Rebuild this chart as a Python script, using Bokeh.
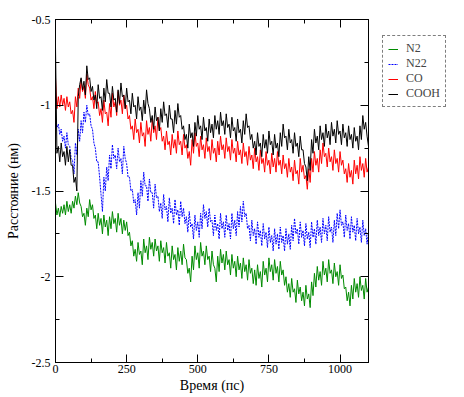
from bokeh.plotting import figure
from bokeh.models import (FixedTicker, LinearAxis, Legend, LegendItem, Range1d,
                          CustomJSTickFormatter)
from bokeh.layouts import row
from bokeh.embed import file_html
from bokeh.resources import INLINE

# time grid (ps), 5 ps sampling
time_ps = list(range(0, 1101, 5))

n2 = [-1.57, -1.64, -1.60, -1.65, -1.59, -1.63, -1.58, -1.64, -1.56, -1.62,
      -1.58, -1.63, -1.56, -1.60, -1.53, -1.58, -1.51, -1.57, -1.59, -1.65,
      -1.63, -1.70, -1.60, -1.65, -1.55, -1.61, -1.58, -1.66, -1.64, -1.72,
      -1.63, -1.70, -1.66, -1.75, -1.64, -1.71, -1.67, -1.76, -1.65, -1.72,
      -1.62, -1.69, -1.66, -1.74, -1.63, -1.70, -1.66, -1.75, -1.67, -1.73,
      -1.68, -1.76, -1.74, -1.82, -1.79, -1.88, -1.84, -1.91, -1.80, -1.87,
      -1.85, -1.93, -1.78, -1.86, -1.82, -1.90, -1.77, -1.84, -1.80, -1.88,
      -1.78, -1.85, -1.82, -1.91, -1.79, -1.86, -1.83, -1.92, -1.80, -1.88,
      -1.86, -1.95, -1.82, -1.90, -1.87, -1.96, -1.83, -1.91, -1.85, -1.93,
      -1.81, -1.89, -1.90, -1.98, -1.95, -2.03, -1.88, -1.96, -1.82, -1.90,
      -1.86, -1.95, -1.80, -1.88, -1.85, -1.93, -1.82, -1.90, -1.88, -1.97,
      -1.85, -1.93, -1.95, -2.03, -1.88, -1.97, -1.84, -1.92, -1.87, -1.96,
      -1.85, -1.93, -1.90, -1.99, -1.87, -1.95, -1.91, -2.00, -1.88, -1.96,
      -1.92, -2.01, -1.89, -1.97, -1.93, -2.02, -1.90, -1.98, -1.95, -2.04,
      -1.96, -2.05, -1.93, -2.01, -1.97, -2.06, -1.91, -1.99, -1.95, -2.03,
      -1.89, -1.97, -1.93, -2.02, -1.90, -1.98, -1.94, -2.03, -1.91, -1.99,
      -1.96, -2.05, -2.00, -2.09, -2.04, -2.12, -2.01, -2.09, -2.07, -2.15,
      -2.02, -2.10, -2.06, -2.14, -2.09, -2.17, -2.05, -2.13, -2.10, -2.18,
      -2.03, -2.11, -1.98, -2.06, -1.94, -2.02, -1.97, -2.05, -1.91, -1.99,
      -1.95, -2.03, -1.90, -1.98, -1.96, -2.04, -1.92, -2.00, -1.97, -2.05,
      -1.93, -2.01, -1.99, -2.07, -2.06, -2.14, -2.09, -2.17, -2.05, -2.13,
      -2.01, -2.09, -2.04, -2.12, -2.00, -2.08, -2.05, -2.13, -2.01, -2.09,
      -2.06]

n22 = [-1.08, -1.13, -1.11, -1.17, -1.14, -1.21, -1.18, -1.25, -1.16, -1.23,
       -1.24, -1.31, -1.32, -1.40, -1.22, -1.29, -1.14, -1.21, -1.09, -1.16,
       -1.04, -1.10, -1.00, -1.06, -1.05, -1.12, -1.14, -1.22, -1.25, -1.33,
       -1.33, -1.42, -1.52, -1.62, -1.42, -1.50, -1.36, -1.44, -1.29, -1.37,
       -1.23, -1.31, -1.29, -1.37, -1.25, -1.33, -1.31, -1.40, -1.24, -1.31,
       -1.34, -1.42, -1.42, -1.50, -1.49, -1.57, -1.55, -1.64, -1.51, -1.60,
       -1.44, -1.53, -1.39, -1.47, -1.47, -1.56, -1.43, -1.51, -1.51, -1.60,
       -1.46, -1.54, -1.53, -1.62, -1.57, -1.66, -1.52, -1.61, -1.59, -1.68,
       -1.54, -1.63, -1.60, -1.69, -1.55, -1.64, -1.61, -1.70, -1.56, -1.65,
       -1.60, -1.69, -1.65, -1.74, -1.62, -1.71, -1.69, -1.78, -1.64, -1.73,
       -1.68, -1.77, -1.63, -1.72, -1.58, -1.66, -1.62, -1.71, -1.60, -1.68,
       -1.67, -1.76, -1.64, -1.73, -1.69, -1.78, -1.63, -1.72, -1.68, -1.77,
       -1.64, -1.73, -1.69, -1.78, -1.63, -1.72, -1.67, -1.76, -1.62, -1.71,
       -1.59, -1.68, -1.56, -1.65, -1.63, -1.72, -1.70, -1.79, -1.67, -1.76,
       -1.72, -1.81, -1.68, -1.77, -1.73, -1.82, -1.69, -1.78, -1.74, -1.83,
       -1.71, -1.80, -1.76, -1.85, -1.72, -1.81, -1.75, -1.84, -1.71, -1.80,
       -1.76, -1.85, -1.72, -1.81, -1.75, -1.84, -1.70, -1.79, -1.66, -1.75,
       -1.72, -1.81, -1.68, -1.77, -1.73, -1.82, -1.69, -1.78, -1.74, -1.83,
       -1.68, -1.77, -1.72, -1.81, -1.67, -1.76, -1.71, -1.80, -1.66, -1.75,
       -1.70, -1.79, -1.65, -1.74, -1.71, -1.80, -1.67, -1.76, -1.63, -1.72,
       -1.61, -1.70, -1.68, -1.77, -1.64, -1.73, -1.69, -1.78, -1.65, -1.74,
       -1.70, -1.79, -1.66, -1.75, -1.71, -1.80, -1.67, -1.76, -1.72, -1.81,
       -1.74]

co = [-0.84, -1.02, -0.95, -1.01, -0.94, -1.00, -0.96, -1.03, -0.95, -1.01,
      -0.98, -1.05, -1.03, -1.10, -0.95, -1.01, -0.90, -0.96, -0.85, -0.92,
      -0.89, -0.96, -0.82, -0.88, -0.90, -0.97, -0.95, -1.02, -0.92, -0.99,
      -0.98, -1.06, -1.02, -1.10, -0.97, -1.05, -1.04, -1.12, -0.99, -1.07,
      -0.93, -1.01, -0.98, -1.06, -0.92, -1.00, -0.97, -1.05, -0.94, -1.02,
      -1.00, -1.08, -1.06, -1.14, -1.12, -1.20, -1.08, -1.16, -1.14, -1.22,
      -1.10, -1.18, -1.16, -1.24, -1.09, -1.17, -1.13, -1.21, -1.08, -1.16,
      -1.12, -1.20, -1.07, -1.15, -1.13, -1.21, -1.18, -1.26, -1.15, -1.23,
      -1.21, -1.29, -1.17, -1.25, -1.20, -1.28, -1.15, -1.23, -1.21, -1.29,
      -1.17, -1.25, -1.23, -1.31, -1.27, -1.35, -1.20, -1.28, -1.16, -1.24,
      -1.22, -1.30, -1.18, -1.26, -1.23, -1.31, -1.19, -1.27, -1.24, -1.32,
      -1.20, -1.28, -1.25, -1.33, -1.21, -1.29, -1.18, -1.26, -1.23, -1.31,
      -1.19, -1.27, -1.24, -1.32, -1.20, -1.28, -1.25, -1.33, -1.21, -1.29,
      -1.26, -1.34, -1.22, -1.30, -1.27, -1.35, -1.24, -1.32, -1.29, -1.37,
      -1.25, -1.33, -1.30, -1.38, -1.26, -1.34, -1.31, -1.39, -1.27, -1.35,
      -1.32, -1.40, -1.28, -1.36, -1.31, -1.39, -1.27, -1.35, -1.32, -1.40,
      -1.29, -1.37, -1.34, -1.42, -1.31, -1.39, -1.36, -1.44, -1.32, -1.40,
      -1.38, -1.46, -1.31, -1.39, -1.35, -1.43, -1.41, -1.49, -1.37, -1.45,
      -1.31, -1.39, -1.27, -1.35, -1.31, -1.39, -1.26, -1.34, -1.22, -1.30,
      -1.28, -1.36, -1.25, -1.33, -1.30, -1.38, -1.26, -1.34, -1.31, -1.39,
      -1.27, -1.35, -1.32, -1.40, -1.37, -1.45, -1.34, -1.42, -1.38, -1.46,
      -1.32, -1.40, -1.35, -1.43, -1.30, -1.38, -1.34, -1.42, -1.31, -1.39,
      -1.36]

cooh = [-0.66, -1.28, -1.24, -1.33, -1.22, -1.30, -1.27, -1.35, -1.24, -1.33,
        -1.26, -1.35, -1.35, -1.45, -1.42, -1.50, -0.95, -0.88, -0.84, -0.91,
        -0.86, -0.94, -0.77, -0.85, -0.84, -0.92, -0.89, -0.97, -0.94, -1.02,
        -0.88, -0.96, -0.95, -1.03, -0.90, -0.98, -0.85, -0.93, -0.93, -1.01,
        -0.89, -0.97, -0.96, -1.04, -0.91, -0.99, -0.87, -0.95, -0.94, -1.02,
        -0.90, -0.98, -0.97, -1.05, -0.93, -1.01, -1.00, -1.08, -0.95, -1.03,
        -1.01, -1.09, -0.97, -1.05, -0.91, -0.99, -1.02, -1.10, -1.06, -1.14,
        -1.01, -1.09, -1.07, -1.15, -1.02, -1.10, -0.98, -1.06, -1.05, -1.13,
        -1.00, -1.08, -1.08, -1.16, -1.03, -1.11, -0.99, -1.07, -1.06, -1.14,
        -1.12, -1.20, -1.17, -1.25, -1.11, -1.19, -1.16, -1.24, -1.10, -1.18,
        -1.06, -1.14, -1.12, -1.20, -1.07, -1.15, -1.13, -1.21, -1.08, -1.16,
        -1.11, -1.19, -1.06, -1.14, -1.09, -1.17, -1.04, -1.12, -1.09, -1.17,
        -1.05, -1.13, -1.11, -1.19, -1.07, -1.15, -1.13, -1.21, -1.08, -1.16,
        -1.14, -1.22, -1.09, -1.17, -1.05, -1.13, -1.12, -1.20, -1.17, -1.25,
        -1.21, -1.29, -1.16, -1.24, -1.22, -1.30, -1.17, -1.25, -1.20, -1.28,
        -1.15, -1.23, -1.21, -1.29, -1.17, -1.25, -1.22, -1.30, -1.16, -1.24,
        -1.11, -1.19, -1.18, -1.26, -1.14, -1.22, -1.20, -1.28, -1.16, -1.24,
        -1.22, -1.30, -1.18, -1.26, -1.26, -1.34, -1.36, -1.44, -1.30, -1.38,
        -1.20, -1.28, -1.14, -1.22, -1.18, -1.26, -1.12, -1.20, -1.16, -1.24,
        -1.11, -1.19, -1.15, -1.23, -1.10, -1.18, -1.14, -1.22, -1.09, -1.17,
        -1.15, -1.23, -1.11, -1.19, -1.16, -1.24, -1.12, -1.20, -1.17, -1.25,
        -1.13, -1.21, -1.18, -1.26, -1.12, -1.20, -1.06, -1.14, -1.10, -1.18,
        -1.24]

series_names = ["N2", "N22", "CO", "COOH"]
series_colors = ["#008b00", "#0000ff", "#ff0000", "#000000"]
series_dashes = ["solid", "2 1", "solid", "solid"]

x_ticks = [0, 250, 500, 750, 1000]
x_minor = [125, 375, 625, 875, 1125]
y_ticks = [-2.5, -2.0, -1.5, -1.0, -0.5]
y_minor = [-2.25, -1.75, -1.25, -0.75]
y_tick_labels = ["-2.5", "-2", "-1.5", "-1", "-0.5"]

FONT = "'Liberation Serif'"

p = figure(width=370, height=395, output_backend="svg", toolbar_location=None,
           x_range=Range1d(0, 1100), y_range=Range1d(-2.5, -0.5),
           x_axis_label="Время (пс)", y_axis_label="Расстояние (нм)")
p.min_border_left = 55
p.min_border_top = 19
p.min_border_right = 2
p.min_border_bottom = 20
p.xgrid.visible = False
p.ygrid.visible = False
p.outline_line_color = "black"
p.background_fill_color = "white"
p.border_fill_color = "white"

for vals, color, dash in zip([n2, n22, co, cooh], series_colors, series_dashes):
    p.line(time_ps, vals, line_color=color, line_width=1, line_dash=dash)

def style_ticks(ax):
    ax.axis_line_color = "black"
    ax.major_tick_in = 8
    ax.major_tick_out = 0
    ax.minor_tick_in = 4
    ax.minor_tick_out = 0
    ax.major_tick_line_color = "black"
    ax.minor_tick_line_color = "black"

def style_text(ax):
    ax.major_label_text_font = FONT
    ax.major_label_text_font_size = "12px"
    ax.major_label_text_color = "black"
    ax.axis_label_text_font = FONT
    ax.axis_label_text_font_size = "14px"
    ax.axis_label_text_font_style = "normal"
    ax.axis_label_text_color = "black"

xa = p.xaxis[0]
xa.ticker = FixedTicker(ticks=x_ticks, minor_ticks=x_minor)
style_ticks(xa)
style_text(xa)
xa.major_label_standoff = 2
xa.axis_label_standoff = 2

ya = p.yaxis[0]
ya.ticker = FixedTicker(ticks=y_ticks, minor_ticks=y_minor)
ya.major_label_overrides = {t: lab for t, lab in zip(y_ticks, y_tick_labels)}
style_ticks(ya)
style_text(ya)
ya.major_label_standoff = 5
ya.axis_label_standoff = 8

top = LinearAxis(ticker=FixedTicker(ticks=x_ticks, minor_ticks=x_minor),
                 formatter=CustomJSTickFormatter(code="return '';"),
                 major_label_standoff=0, axis_label_standoff=0)
style_ticks(top)
p.add_layout(top, "above")
right = LinearAxis(ticker=FixedTicker(ticks=y_ticks, minor_ticks=y_minor),
                   formatter=CustomJSTickFormatter(code="return '';"),
                   major_label_standoff=0, axis_label_standoff=0)
style_ticks(right)
p.add_layout(right, "right")

# legend panel: a small companion figure holding the legend
pl = figure(width=90, height=395, output_backend="svg", toolbar_location=None,
            x_range=Range1d(0, 1), y_range=Range1d(0, 1),
            x_axis_type=None, y_axis_type=None)
pl.min_border_left = 0
pl.min_border_top = 19
pl.min_border_right = 0
pl.min_border_bottom = 0
pl.xgrid.visible = False
pl.ygrid.visible = False
pl.outline_line_color = None
pl.background_fill_color = "white"
pl.border_fill_color = "white"

# single-point proxy lines (draw nothing themselves, only feed the legend)
legend_renderers = []
for color, dash in zip(series_colors, series_dashes):
    legend_renderers.append(pl.line([0.5], [0.5], line_color=color,
                                    line_width=1, line_dash=dash))

legend = Legend(items=[LegendItem(label=n, renderers=[r])
                       for n, r in zip(series_names, legend_renderers)],
                location=(12, 255))
legend.border_line_color = "black"
legend.border_line_dash = "1 1"
legend.border_line_width = 1
legend.background_fill_color = "white"
legend.background_fill_alpha = 1
legend.label_text_font = FONT
legend.label_text_font_size = "12px"
legend.label_height = 12
legend.glyph_height = 12
legend.glyph_width = 10
legend.spacing = 0
legend.padding = 5
legend.margin = 0
legend.label_standoff = 8
pl.add_layout(legend, "center")

layout = row(p, pl)
open("out.html", "w").write(file_html(layout, INLINE))
